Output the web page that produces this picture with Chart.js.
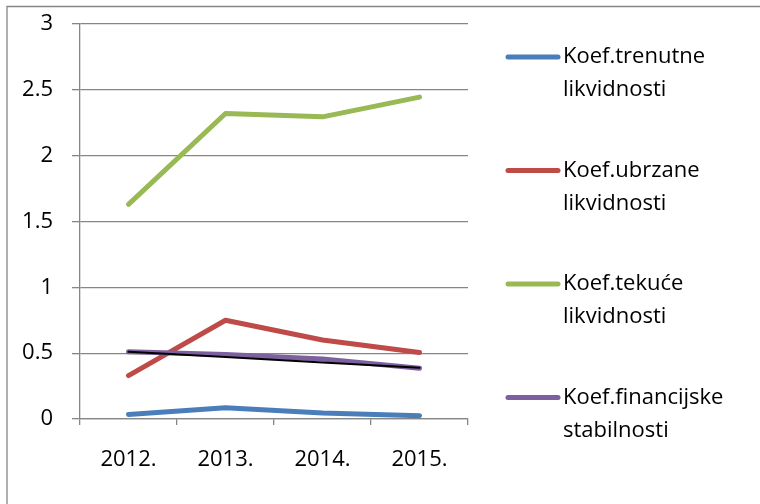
<!DOCTYPE html>
<html>
<head>
<meta charset="utf-8">
<script src="https://cdn.jsdelivr.net/npm/chart.js@4"></script>
<style>
  html, body { margin: 0; padding: 0; background: #fff; }
  #wrap { width: 760px; height: 504px; }
</style>
</head>
<body>
<div id="wrap"><canvas id="chartKoef"></canvas></div>
<script>
var godine = ['2012.', '2013.', '2014.', '2015.'];
var trenutne = [0.035, 0.086, 0.045, 0.025];
var ubrzane = [0.33, 0.75, 0.60, 0.505];
var tekuce = [1.63, 2.32, 2.295, 2.445];
var financijske = [0.51, 0.49, 0.455, 0.385];
var trend = [0.51, 0.47, 0.43, 0.39];
var nazivi = [
    ['Koef.trenutne', 'likvidnosti'],
    ['Koef.ubrzane', 'likvidnosti'],
    ['Koef.tekuće', 'likvidnosti'],
    ['Koef.financijske', 'stabilnosti']
];
var boje = ['#4a7ebb', '#be4b48', '#98b954', '#7d60a0'];

var sivo = '#868686';
var font = "'Open Sans', Lato, sans-serif";

// okvir i legenda se crtaju rucno
var okvir = {
    id: 'okvir',
    beforeDraw: function(chart) {
        var c = chart.ctx;
        c.save();
        c.strokeStyle = sivo;
        c.lineWidth = 1.3;
        c.beginPath();
        c.moveTo(7, 504);
        c.lineTo(7, 6.5);
        c.lineTo(760, 6.5);
        c.stroke();
        c.restore();
    },
    afterDraw: function(chart) {
        var c = chart.ctx;
        c.save();
        c.font = '22px ' + font;
        c.textBaseline = 'middle';
        c.fillStyle = '#000';
        for (var i = 0; i < nazivi.length; i++) {
            var y = 57 + i * 113.5;
            c.strokeStyle = boje[i];
            c.lineWidth = 5;
            c.lineCap = 'round';
            c.beginPath();
            c.moveTo(508, y);
            c.lineTo(558, y);
            c.stroke();
            c.fillText(nazivi[i][0], 563, y);
            c.fillText(nazivi[i][1], 563, y + 33);
        }
        c.restore();
    }
};

function linija(label, data, color, order) {
    return {
        label: label,
        data: data,
        borderColor: color,
        backgroundColor: color,
        borderWidth: 5,
        borderCapStyle: 'round',
        borderJoinStyle: 'round',
        pointRadius: 0,
        tension: 0,
        fill: false,
        order: order
    };
}

var ctx = document.getElementById('chartKoef');
var chartKoef = new Chart(ctx, {
    type: 'line',
    data: {
        labels: godine,
        datasets: [
            linija(nazivi[0].join(' '), trenutne, boje[0], 4),
            linija(nazivi[1].join(' '), ubrzane, boje[1], 3),
            linija(nazivi[2].join(' '), tekuce, boje[2], 2),
            linija(nazivi[3].join(' '), financijske, boje[3], 1),
            Object.assign(linija('Trend', trend, '#000', 0), { borderWidth: 2 })
        ]
    },
    options: {
        responsive: true,
        maintainAspectRatio: false,
        animation: false,
        layout: { padding: { left: 0, top: 24, right: 292, bottom: 0 } },
        plugins: {
            legend: { display: false },
            tooltip: { enabled: false }
        },
        scales: {
            x: {
                offset: true,
                afterFit: function(s) { s.height = 85; s.paddingLeft = 0; s.paddingRight = 0; },
                grid: {
                    offset: true,
                    drawOnChartArea: false,
                    drawTicks: true,
                    tickLength: 6,
                    color: sivo,
                    lineWidth: 1.3
                },
                border: { color: sivo, width: 1.3 },
                ticks: {
                    color: '#000',
                    font: { family: font, size: 22 },
                    padding: 22,
                    maxRotation: 0
                }
            },
            y: {
                min: 0,
                max: 3,
                afterFit: function(s) { s.width = 80; s.paddingTop = 0; s.paddingBottom = 0; },
                grid: {
                    color: sivo,
                    lineWidth: 1.3,
                    tickLength: 8
                },
                border: { color: sivo, width: 1.3 },
                ticks: {
                    stepSize: 0.5,
                    color: '#000',
                    font: { family: font, size: 22 },
                    padding: 19,
                    callback: function(v) { return String(v); }
                }
            }
        }
    },
    plugins: [okvir]
});
</script>
</body>
</html>
